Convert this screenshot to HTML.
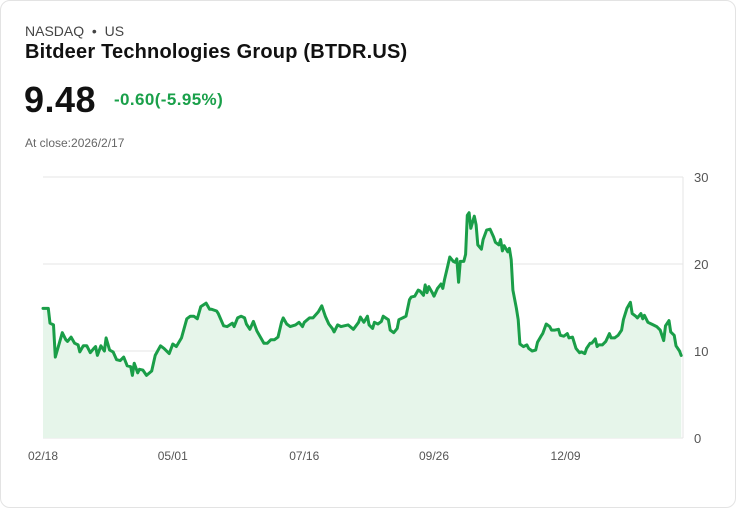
<!DOCTYPE html>
<html><head><meta charset="utf-8"><style>
body{margin:0;background:#fff;font-family:"Liberation Sans",sans-serif}
.card{position:absolute;left:0;top:0;width:734px;height:506px;border:1px solid #e3e3e3;border-radius:10px;background:#fff}
.t{position:absolute;white-space:nowrap}
</style></head><body>
<div class="card"></div>
<div class="t" style="left:25px;top:23px;font-size:14px;color:#444">NASDAQ &nbsp;•&nbsp; US</div>
<div class="t" style="left:25px;top:41px;font-size:20px;letter-spacing:0.2px;font-weight:bold;color:#111">Bitdeer Technologies Group (BTDR.US)</div>
<div class="t" style="left:24px;top:79px;font-size:36px;letter-spacing:0.5px;font-weight:bold;color:#111">9.48</div>
<div class="t" style="left:114px;top:90px;font-size:17px;letter-spacing:0.4px;font-weight:bold;color:#1aa04a">-0.60(-5.95%)</div>
<div class="t" style="left:25px;top:136px;font-size:12px;color:#666">At close:2026/2/17</div>
<svg id="chart" width="736" height="508" style="position:absolute;left:0;top:0"></svg>
<script>
const days=[0,3,4,6,7,9,11,13,14,16,18,20,21,23,25,27,29,30,31,33,35,36,38,40,42,44,46,48,50,51,52,54,55,57,59,62,64,67,69,72,74,76,79,82,84,86,88,90,93,95,96,99,100,103,105,108,109,111,113,115,116,118,120,122,124,126,128,130,132,134,136,137,139,141,144,146,148,149,152,154,157,159,161,163,165,166,168,170,174,177,180,181,183,185,186,188,189,191,193,194,197,198,200,202,203,206,207,209,210,212,214,215,217,218,219,220,222,223,225,227,228,229,231,232,234,235,236,237,238,240,241,242,243,244,246,247,248,250,251,253,255,257,258,260,261,262,263,265,266,267,268,270,271,272,274,276,277,279,281,282,284,285,287,289,290,292,294,295,297,299,300,302,304,306,307,309,310,312,313,315,316,317,319,321,323,324,326,328,330,331,333,335,336,338,339,341,342,343,345,347,348,350,352,354,355,357,358,360,361,363,364];
const prices=[14.9,14.9,13.2,13.0,9.3,10.7,12.1,11.3,11.1,11.6,10.9,10.7,9.9,10.6,10.6,9.8,10.3,10.5,9.5,10.6,10.0,11.5,10.1,9.9,9.0,8.9,9.3,8.3,8.2,7.2,8.6,7.5,7.9,7.8,7.2,7.7,9.5,10.6,10.3,9.7,10.8,10.5,11.5,13.7,14.0,14.0,13.7,15.1,15.5,14.8,14.8,14.6,14.3,12.9,12.8,13.2,12.8,13.8,14.0,13.8,13.1,12.5,13.4,12.3,11.6,10.9,10.9,11.3,11.3,11.6,13.3,13.8,13.1,12.8,13.0,13.3,12.8,13.3,13.8,13.8,14.5,15.2,14.0,13.1,12.6,12.2,13.0,12.8,13.0,12.5,13.3,13.9,13.3,14.0,13.0,12.6,13.3,13.1,13.4,14.0,13.6,12.4,12.1,12.6,13.6,13.9,14.0,15.9,16.2,16.3,17.0,16.9,16.4,17.6,16.7,17.4,16.7,16.3,17.2,17.7,17.2,18.2,19.9,20.8,20.3,20.2,20.6,17.9,20.3,20.3,21.1,25.6,25.9,24.1,25.5,24.5,22.2,21.7,22.8,23.9,24.0,23.1,22.5,22.2,22.8,21.5,22.1,21.4,21.8,20.5,17.0,14.9,13.6,10.8,10.5,10.7,10.3,10.0,10.1,11.0,11.7,12.0,13.1,12.8,12.4,12.4,12.5,11.8,11.7,12.0,11.5,11.6,10.3,9.8,9.9,9.7,10.3,10.9,10.9,11.4,10.5,10.7,10.7,11.1,12.0,11.5,11.5,11.8,12.4,13.6,14.9,15.6,14.3,14.0,13.8,14.3,13.7,14.1,13.3,13.1,13.0,12.8,12.4,11.2,12.9,13.5,12.2,11.8,10.6,10.0,9.48];
const yTicks=[0,10,20,30];
const xTickLabels=["02/18","05/01","07/16","09/26","12/09"];
const xTickDays=[0,74,149,223,298];
const svg=document.getElementById('chart');const NS='http://www.w3.org/2000/svg';
const x0=43,x1=683,yb=438,yt=177,dMax=365,vMax=30;
const X=d=>x0+d/dMax*(x1-x0), Y=v=>yb-v/vMax*(yb-yt);
function mk(t,a){const e=document.createElementNS(NS,t);for(const k in a)e.setAttribute(k,a[k]);svg.appendChild(e);return e;}
yTicks.forEach(v=>{
 const l=mk('line',{x1:x0,x2:x1,y1:Y(v),y2:Y(v),stroke:'#e6e6e6','stroke-width':1});
 
 
 const t=mk('text',{x:694,y:Y(v)+5,'font-size':13,fill:'#555','font-family':'Liberation Sans, sans-serif'});t.textContent=v;
 
 
});
const ax=mk('line',{x1:x1,x2:x1,y1:yt,y2:yb,stroke:'#e6e6e6'});


xTickLabels.forEach((s,i)=>{
 const t=mk('text',{x:X(xTickDays[i])-15,y:460,'font-size':12,fill:'#555','font-family':'Liberation Sans, sans-serif'});t.textContent=s;
 
 
});
let p=days.map((d,i)=>X(d).toFixed(1)+','+Y(prices[i]).toFixed(1)).join(' L');
const area=mk('path',{d:'M'+X(days[0])+','+yb+' L'+p+' L'+X(days[days.length-1])+','+yb+' Z',fill:'#e6f5ea'});


const line=mk('path',{d:'M'+p,fill:'none',stroke:'#1a9e48','stroke-width':3,'stroke-linejoin':'round','stroke-linecap':'round'});


</script>
</body></html>
